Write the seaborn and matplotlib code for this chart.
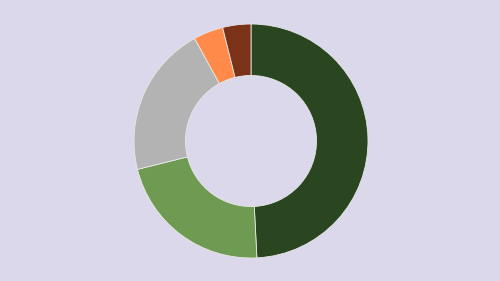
import matplotlib
matplotlib.use("Agg")
import matplotlib.pyplot as plt
import seaborn as sns

categories = ["A", "B", "C", "D", "E"]
values = [49.2, 21.9, 20.9, 4.1, 3.9]
colors = ["#2a4621", "#6e9a51", "#b3b3b3", "#ff8a4a", "#7a3318"]
bg = "#dbd8eb"

sns.set_style("white")
fig = plt.figure(figsize=(5, 2.81), dpi=100)
fig.patch.set_facecolor(bg)
ax = fig.add_axes([0, 0, 1, 1])
ax.set_facecolor(bg)
ax.pie(values, colors=sns.color_palette(colors), startangle=90, counterclock=False,
       radius=1, wedgeprops=dict(width=0.44, edgecolor="#e8e8e8", linewidth=0.6))
R = 117.0
ax.set_xlim(-251 / R, 249 / R)
ax.set_ylim(-140 / R, 141 / R)
ax.set_aspect("equal")
ax.axis("off")
fig.savefig("out.png", dpi=100, facecolor=bg)
